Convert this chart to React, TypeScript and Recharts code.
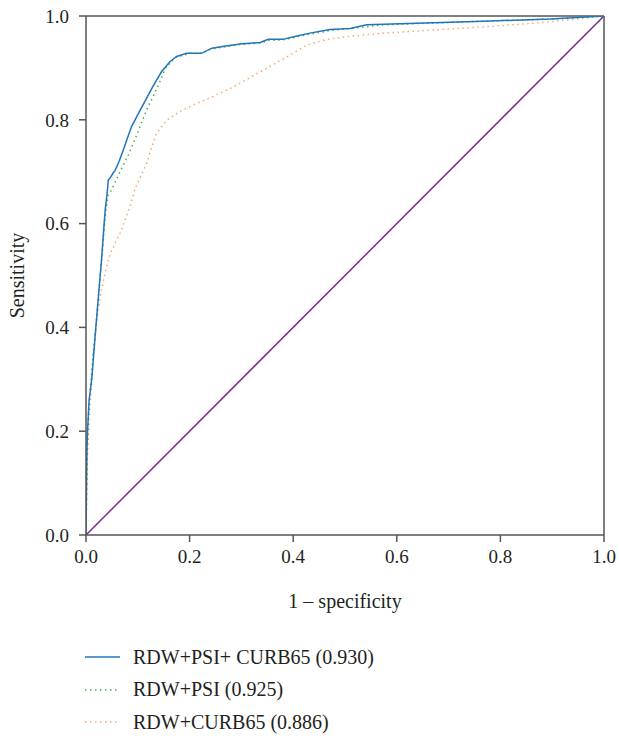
import React from 'react';
import {
  LineChart,
  Line,
  XAxis,
  YAxis,
  Legend,
  ReferenceLine,
} from 'recharts';

// Series values (x = 1 - specificity, y = sensitivity)
const fullFpr = [0, 0.001, 0.002, 0.003, 0.006, 0.011, 0.015, 0.019, 0.024, 0.03, 0.035, 0.037, 0.041, 0.043, 0.048, 0.052, 0.056, 0.064, 0.072, 0.08, 0.088, 0.1, 0.115, 0.13, 0.146, 0.162, 0.175, 0.194, 0.223, 0.243, 0.27, 0.297, 0.336, 0.352, 0.38, 0.405, 0.432, 0.471, 0.51, 0.542, 0.638, 0.767, 0.896, 1];
const fullTpr = [0, 0.1, 0.17, 0.2, 0.26, 0.3, 0.35, 0.4, 0.46, 0.53, 0.6, 0.626, 0.66, 0.684, 0.69, 0.697, 0.702, 0.72, 0.742, 0.765, 0.787, 0.81, 0.838, 0.866, 0.893, 0.912, 0.922, 0.928, 0.928, 0.938, 0.942, 0.946, 0.949, 0.955, 0.955, 0.961, 0.967, 0.974, 0.976, 0.983, 0.986, 0.99, 0.994, 1];

const psiFpr = [0, 0.002, 0.004, 0.008, 0.014, 0.019, 0.025, 0.031, 0.036, 0.039, 0.043, 0.05, 0.06, 0.072, 0.083, 0.098, 0.117, 0.14, 0.153, 0.172, 0.201, 0.223, 0.243, 0.297, 0.336, 0.352, 0.38, 0.432, 0.471, 0.51, 0.574, 0.767, 0.896, 1];
const psiTpr = [0, 0.15, 0.22, 0.28, 0.35, 0.4, 0.47, 0.54, 0.6, 0.63, 0.655, 0.666, 0.688, 0.713, 0.735, 0.771, 0.819, 0.867, 0.899, 0.92, 0.928, 0.928, 0.937, 0.945, 0.948, 0.953, 0.954, 0.965, 0.972, 0.976, 0.983, 0.99, 0.994, 1];

const curbFpr = [0, 0.002, 0.004, 0.007, 0.011, 0.017, 0.024, 0.03, 0.039, 0.045, 0.056, 0.067, 0.075, 0.085, 0.095, 0.107, 0.117, 0.125, 0.136, 0.156, 0.181, 0.21, 0.246, 0.284, 0.323, 0.371, 0.4, 0.426, 0.465, 0.51, 0.574, 0.671, 0.767, 0.864, 0.928, 1];
const curbTpr = [0, 0.12, 0.18, 0.24, 0.292, 0.382, 0.437, 0.472, 0.514, 0.537, 0.562, 0.584, 0.607, 0.633, 0.668, 0.694, 0.716, 0.742, 0.774, 0.799, 0.816, 0.83, 0.845, 0.863, 0.885, 0.912, 0.928, 0.944, 0.955, 0.961, 0.967, 0.973, 0.979, 0.986, 0.992, 1];

const refFpr = [0, 1];
const refTpr = [0, 1];

const axisTicks = [0, 0.2, 0.4, 0.6, 0.8, 1];

const seriesNames = ['RDW+PSI+ CURB65 (0.930)', 'RDW+PSI (0.925)', 'RDW+CURB65 (0.886)'];

const toRows = (xs: number[], ys: number[]) => xs.map((x, i) => ({ fpr: x, tpr: ys[i] }));

const fullData = toRows(fullFpr, fullTpr);
const psiData = toRows(psiFpr, psiTpr);
const curbData = toRows(curbFpr, curbTpr);
const refData = toRows(refFpr, refTpr);

const AXIS = '#555';
const TEXT = '#231f20';
const FONT = '"Liberation Serif", "DejaVu Serif", serif';

const legendItems = [
  { name: seriesNames[0], color: '#2275bb', dash: undefined },
  { name: seriesNames[1], color: '#3cb44b', dash: '1.5 3.5' },
  { name: seriesNames[2], color: '#f7a872', dash: '1.5 3.5' },
];

const LegendBox = () => (
  <div style={{ fontFamily: FONT }}>
    {legendItems.map((it) => (
      <div key={it.name} style={{ display: 'flex', alignItems: 'center', height: 32.5 }}>
        <svg width={48} height={10}>
          <line x1={0} y1={5} x2={35} y2={5} stroke={it.color} strokeWidth={1.5} strokeDasharray={it.dash} />
        </svg>
        <span style={{ fontSize: 20, color: TEXT, fontFamily: FONT }}>{it.name}</span>
      </div>
    ))}
  </div>
);

const fmt = (v: number) => v.toFixed(1);

export default function App() {
  return (
    <div
      style={{
        position: 'absolute',
        left: 0,
        top: 0,
        width: 619,
        height: 742,
        background: '#fff',
        fontFamily: FONT,
      }}
    >
      <LineChart width={619} height={742} margin={{ top: 16, right: 15, left: 16, bottom: 127 }} style={{ fontFamily: FONT }}>
        <XAxis
          type="number"
          dataKey="fpr"
          domain={[0, 1]}
          ticks={axisTicks}
          tickFormatter={fmt}
          tickSize={7}
          tickMargin={8}
          height={80}
          stroke={AXIS}
          strokeWidth={1.5}
          tick={{ fill: TEXT, fontSize: 19, fontFamily: FONT }}
          allowDataOverflow
          label={{
            content: ({ viewBox }: any) => (
              <text
                x={viewBox.x + viewBox.width / 2}
                y={viewBox.y + 73}
                textAnchor="middle"
                fill={TEXT}
                fontSize={20}
                fontFamily={FONT}
              >
                1 – specificity
              </text>
            ),
          }}
        />
        <YAxis
          type="number"
          domain={[0, 1]}
          ticks={axisTicks}
          tickFormatter={fmt}
          tickSize={7}
          tickMargin={10}
          width={70}
          stroke={AXIS}
          strokeWidth={1.5}
          tick={{ fill: TEXT, fontSize: 19, fontFamily: FONT }}
          allowDataOverflow
          label={{
            content: ({ viewBox }: any) => {
              const cx = viewBox.x + 1;
              const cy = viewBox.y + viewBox.height / 2;
              return (
                <text
                  x={cx}
                  y={cy}
                  textAnchor="middle"
                  dominantBaseline="central"
                  transform={`rotate(-90, ${cx}, ${cy})`}
                  fill={TEXT}
                  fontSize={20}
                  fontFamily={FONT}
                >
                  Sensitivity
                </text>
              );
            },
          }}
        />
        <ReferenceLine y={1} stroke={AXIS} strokeWidth={1.5} />
        <ReferenceLine x={1} stroke={AXIS} strokeWidth={1.5} />

        <Line data={refData} dataKey="tpr" type="linear" stroke="#7d2a8f" strokeWidth={1.5} dot={false} isAnimationActive={false} legendType="none" />
        <Line data={curbData} dataKey="tpr" name={seriesNames[2]} type="linear" stroke="#f7a872" strokeWidth={1.5} strokeDasharray="1.5 3.5" dot={false} isAnimationActive={false} />
        <Line data={psiData} dataKey="tpr" name={seriesNames[1]} type="linear" stroke="#3cb44b" strokeWidth={1.5} strokeDasharray="1.5 3.5" dot={false} isAnimationActive={false} />
        <Line data={fullData} dataKey="tpr" name={seriesNames[0]} type="linear" stroke="#2275bb" strokeWidth={1.5} dot={false} isAnimationActive={false} />

        <Legend
          layout="vertical"
          align="center"
          verticalAlign="middle"
          content={() => <LegendBox />}
          wrapperStyle={{ top: 641, left: 85, width: 360, height: 100 }}
        />
      </LineChart>
    </div>
  );
}
